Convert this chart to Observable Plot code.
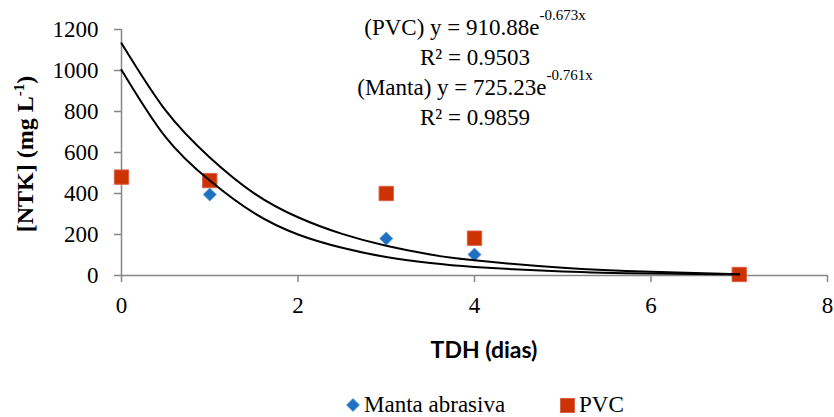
<!DOCTYPE html>
<html>
<head>
<meta charset="utf-8">
<script src="https://cdn.jsdelivr.net/npm/d3@7"></script>
<script src="https://cdn.jsdelivr.net/npm/@observablehq/plot@0.6"></script>
<style>
  body { margin: 0; background: #fff; }
  #legend { position: relative; height: 32px; font-size: 23px; color: #000; }
  #legend .item { position: absolute; top: 8px; display: flex; align-items: center; line-height: 24px; }
  #legend svg { margin-right: 4px; }
</style>
</head>
<body>
<div id="chart"></div>
<div id="legend">
  <div class="item" style="left:346px"><svg width="14" height="14"><polygon points="7,0.5 13.5,7 7,13.5 0.5,7" fill="#1f70c1" stroke="#5b9bd5" stroke-width="0.8"/></svg><span style="font-family:'Liberation Serif'">Manta abrasiva</span></div>
  <div class="item" style="left:560px"><svg width="15" height="15"><rect x="0.5" y="0.5" width="14" height="14" fill="#cc3300" stroke="#d9614a" stroke-width="1"/></svg><span style="font-family:'Liberation Serif'">PVC</span></div>
</div>
<script>
// Observed data
const tdh = [0, 1, 3, 4, 7];
const manta = [480, 395, 180, 102, 5];
const pvc = [480, 463, 400, 182, 5];

// Trend lines as drawn in the reference
const curveX = [0, 0.5, 1, 1.5, 2, 2.5, 3, 3.5, 4, 5, 6, 7];
const pvcFit = [1133, 805, 576, 402, 284, 203, 145, 102, 74, 38, 18, 6];
const mantaFit = [1003, 675, 463, 305, 200, 135, 90, 61, 42, 20, 10, 5];

const xTicks = [0, 2, 4, 6, 8];
const yTicks = [0, 200, 400, 600, 800, 1000, 1200];

const mantaPts = tdh.map((x, i) => ({x, y: manta[i]}));
const pvcPts = tdh.map((x, i) => ({x, y: pvc[i]}));
const pvcLine = curveX.map((x, i) => ({x, y: pvcFit[i]}));
const mantaLine = curveX.map((x, i) => ({x, y: mantaFit[i]}));

const axisColor = "#868686";

const chart = Plot.plot({
  width: 834,
  height: 385,
  marginLeft: 121,
  marginRight: 7,
  marginTop: 29,
  marginBottom: 110,
  style: { fontSize: "23px", color: "#000", background: "#fff" },
  x: { domain: [0, 8] },
  y: { domain: [0, 1200] },
  marks: [
    Plot.axisX({ ticks: xTicks, tickFormat: d => String(d), tickSize: 7, tickPadding: 14, stroke: axisColor, strokeWidth: 1.5, fill: "#000", label: null, fontSize: 23 }),
    Plot.axisY({ ticks: yTicks, tickFormat: d => String(d), tickSize: 7, tickPadding: 16, stroke: axisColor, strokeWidth: 1.5, fill: "#000", label: null, fontSize: 23 }),
    Plot.ruleY([0], { stroke: axisColor, strokeWidth: 1.5 }),
    Plot.ruleX([0], { stroke: axisColor, strokeWidth: 1.5 }),
    Plot.dot(mantaPts, { x: "x", y: "y", symbol: "diamond2", r: 5.9, fill: "#1f70c1", stroke: "#5b9bd5", strokeWidth: 0.8 }),
    Plot.dot(pvcPts, { x: "x", y: "y", symbol: "square", r: 8.1, fill: "#cc3300", stroke: "#d9614a", strokeWidth: 1 }),
    Plot.line(pvcLine, { x: "x", y: "y", curve: "natural", stroke: "#000", strokeWidth: 2 }),
    Plot.line(mantaLine, { x: "x", y: "y", curve: "natural", stroke: "#000", strokeWidth: 2 })
  ]
});
document.getElementById("chart").appendChild(chart);

const svg = d3.select(chart);

// Y axis title
const yt = svg.append("text")
  .attr("transform", "translate(33,154) rotate(-90)")
  .attr("text-anchor", "middle")
  .attr("font-weight", "bold")
  .attr("font-size", 24)
  .attr("fill", "#000");
yt.append("tspan").text("[NTK] (mg L");
yt.append("tspan").attr("font-size", 15).attr("dy", -9).text("-1");
yt.append("tspan").attr("dy", 9).text(")");

// Equations
const eqLines = [
  { main: "(PVC) y = 910.88e", sup: "-0.673x", y: 35 },
  { main: "R² = 0.9503", sup: null, y: 65 },
  { main: "(Manta) y = 725.23e", sup: "-0.761x", y: 95 },
  { main: "R² = 0.9859", sup: null, y: 125 }
];
eqLines.forEach(l => {
  const t = svg.append("text")
    .attr("x", 475).attr("y", l.y)
    .attr("text-anchor", "middle")
    .attr("font-size", 23)
    .attr("fill", "#000");
  t.append("tspan").text(l.main);
  if (l.sup) t.append("tspan").attr("font-size", 15).attr("dy", -15).text(l.sup);
});

// serif everywhere (inline style)
svg.selectAll("text").style("font-family", "'Liberation Serif'").style("font-variant", "normal");

// X axis title (sans, bold)
svg.append("text")
  .attr("x", 484).attr("y", 358)
  .attr("text-anchor", "middle")
  .style("font-family", "Lato")
  .attr("font-weight", "bold")
  .attr("font-size", 23)
  .attr("fill", "#000")
  .text("TDH (dias)");
</script>
</body>
</html>
